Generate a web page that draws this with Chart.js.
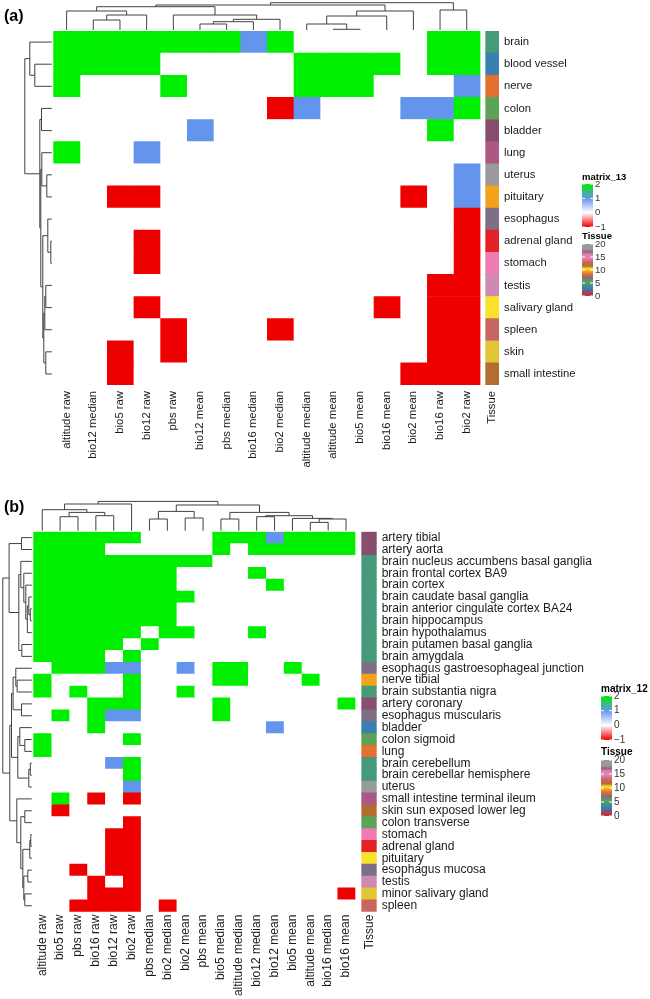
<!DOCTYPE html>
<html>
<head>
<meta charset="utf-8">
<script src="https://cdn.jsdelivr.net/npm/chart.js@4.4.1/dist/chart.umd.min.js"></script>
<style>
  body { margin: 0; background: #fff; }
  canvas { display: block; }
</style>
</head>
<body>
<canvas id="chartA" width="650" height="470"></canvas>
<canvas id="chartB" width="650" height="529"></canvas>
<script>
// ---- panel (a) ----
const rowsA = ["brain", "blood vessel", "nerve", "colon", "bladder", "lung", "uterus", "pituitary",
  "esophagus", "adrenal gland", "stomach", "testis", "salivary gland", "spleen", "skin", "small intestine"];
const colsA = ["altitude raw", "bio12 median", "bio5 raw", "bio12 raw", "pbs raw", "bio12 mean", "pbs median",
  "bio16 median", "bio2 median", "altitude median", "altitude mean", "bio5 mean", "bio16 mean", "bio2 mean",
  "bio16 raw", "bio2 raw"];
const valuesA = [
  [2, 2, 2, 2, 2, 2, 2, 1, 2, 0, 0, 0, 0, 0, 2, 2],
  [2, 2, 2, 2, 0, 0, 0, 0, 0, 2, 2, 2, 2, 0, 2, 2],
  [2, 0, 0, 0, 2, 0, 0, 0, 0, 2, 2, 2, 0, 0, 0, 1],
  [0, 0, 0, 0, 0, 0, 0, 0, -1, 1, 0, 0, 0, 1, 1, 2],
  [0, 0, 0, 0, 0, 1, 0, 0, 0, 0, 0, 0, 0, 0, 2, 0],
  [2, 0, 0, 1, 0, 0, 0, 0, 0, 0, 0, 0, 0, 0, 0, 0],
  [0, 0, 0, 0, 0, 0, 0, 0, 0, 0, 0, 0, 0, 0, 0, 1],
  [0, 0, -1, -1, 0, 0, 0, 0, 0, 0, 0, 0, 0, -1, 0, 1],
  [0, 0, 0, 0, 0, 0, 0, 0, 0, 0, 0, 0, 0, 0, 0, -1],
  [0, 0, 0, -1, 0, 0, 0, 0, 0, 0, 0, 0, 0, 0, 0, -1],
  [0, 0, 0, -1, 0, 0, 0, 0, 0, 0, 0, 0, 0, 0, 0, -1],
  [0, 0, 0, 0, 0, 0, 0, 0, 0, 0, 0, 0, 0, 0, -1, -1],
  [0, 0, 0, -1, 0, 0, 0, 0, 0, 0, 0, 0, -1, 0, -1, -1],
  [0, 0, 0, 0, -1, 0, 0, 0, -1, 0, 0, 0, 0, 0, -1, -1],
  [0, 0, -1, 0, -1, 0, 0, 0, 0, 0, 0, 0, 0, 0, -1, -1],
  [0, 0, -1, 0, 0, 0, 0, 0, 0, 0, 0, 0, 0, -1, -1, -1]
];
const tissueA = ["#459A7A", "#3A7FB0", "#E3702E", "#5AA357", "#874F6D", "#AD5784", "#9A9A9A", "#F5A11B",
  "#7F6E86", "#E32228", "#EF7BB0", "#CE8AB0", "#F9E22A", "#C96662", "#E2C534", "#B36E2F"];
// hclust style merges: negative = leaf (1-based), positive = earlier merge
const colTreeA = [[-2, -3, 10], [1, -4, 15], [-1, 2, 19], [-6, -7, 6], [4, -8, 8.3], [5, -9, 10.7],
  [-5, 6, 15], [3, 7, 23.3], [-11, -12, 0.7], [-10, 9, 6], [10, -13, 14], [11, -14, 19],
  [8, 12, 25], [-15, -16, 20], [13, 14, 27.3]];
const rowTreeA = [[-2, -3, 17], [-1, 1, 22], [-4, -5, 10.3], [-7, -8, 5], [-6, 4, 10], [-10, -11, 1],
  [-9, 6, 4], [-12, -13, 6], [8, -14, 7], [-15, -16, 6], [9, 10, 8], [7, 11, 9], [5, 12, 11],
  [3, 13, 12], [2, 14, 27]];

// ---- panel (b) ----
const rowsB = ["artery tibial", "artery aorta", "brain nucleus accumbens basal ganglia", "brain frontal cortex BA9",
  "brain cortex", "brain caudate basal ganglia", "brain anterior cingulate cortex BA24", "brain hippocampus",
  "brain hypothalamus", "brain putamen basal ganglia", "brain amygdala", "esophagus gastroesophageal junction",
  "nerve tibial", "brain substantia nigra", "artery coronary", "esophagus muscularis", "bladder", "colon sigmoid",
  "lung", "brain cerebellum", "brain cerebellar hemisphere", "uterus", "small intestine terminal ileum",
  "skin sun exposed lower leg", "colon transverse", "stomach", "adrenal gland", "pituitary", "esophagus mucosa",
  "testis", "minor salivary gland", "spleen"];
const colsB = ["altitude raw", "bio5 raw", "pbs raw", "bio16 raw", "bio12 raw", "bio2 raw", "pbs median",
  "bio2 median", "bio2 mean", "pbs mean", "bio5 median", "altitude median", "bio12 median", "bio12 mean",
  "bio5 mean", "altitude mean", "bio16 median", "bio16 mean"];
const valuesB = [
  [2, 2, 2, 2, 2, 2, 0, 0, 0, 0, 2, 2, 2, 1, 2, 2, 2, 2],
  [2, 2, 2, 2, 0, 0, 0, 0, 0, 0, 2, 0, 2, 2, 2, 2, 2, 2],
  [2, 2, 2, 2, 2, 2, 2, 2, 2, 2, 0, 0, 0, 0, 0, 0, 0, 0],
  [2, 2, 2, 2, 2, 2, 2, 2, 0, 0, 0, 0, 2, 0, 0, 0, 0, 0],
  [2, 2, 2, 2, 2, 2, 2, 2, 0, 0, 0, 0, 0, 2, 0, 0, 0, 0],
  [2, 2, 2, 2, 2, 2, 2, 2, 2, 0, 0, 0, 0, 0, 0, 0, 0, 0],
  [2, 2, 2, 2, 2, 2, 2, 2, 0, 0, 0, 0, 0, 0, 0, 0, 0, 0],
  [2, 2, 2, 2, 2, 2, 2, 2, 0, 0, 0, 0, 0, 0, 0, 0, 0, 0],
  [2, 2, 2, 2, 2, 2, 0, 2, 2, 0, 0, 0, 2, 0, 0, 0, 0, 0],
  [2, 2, 2, 2, 2, 0, 2, 0, 0, 0, 0, 0, 0, 0, 0, 0, 0, 0],
  [2, 2, 2, 2, 0, 2, 0, 0, 0, 0, 0, 0, 0, 0, 0, 0, 0, 0],
  [0, 2, 2, 2, 1, 1, 0, 0, 1, 0, 2, 2, 0, 0, 2, 0, 0, 0],
  [2, 0, 0, 0, 0, 2, 0, 0, 0, 0, 2, 2, 0, 0, 0, 2, 0, 0],
  [2, 0, 2, 0, 0, 2, 0, 0, 2, 0, 0, 0, 0, 0, 0, 0, 0, 0],
  [0, 0, 0, 2, 2, 2, 0, 0, 0, 0, 2, 0, 0, 0, 0, 0, 0, 2],
  [0, 2, 0, 2, 1, 1, 0, 0, 0, 0, 2, 0, 0, 0, 0, 0, 0, 0],
  [0, 0, 0, 2, 0, 0, 0, 0, 0, 0, 0, 0, 0, 1, 0, 0, 0, 0],
  [2, 0, 0, 0, 0, 2, 0, 0, 0, 0, 0, 0, 0, 0, 0, 0, 0, 0],
  [2, 0, 0, 0, 0, 0, 0, 0, 0, 0, 0, 0, 0, 0, 0, 0, 0, 0],
  [0, 0, 0, 0, 1, 2, 0, 0, 0, 0, 0, 0, 0, 0, 0, 0, 0, 0],
  [0, 0, 0, 0, 0, 2, 0, 0, 0, 0, 0, 0, 0, 0, 0, 0, 0, 0],
  [0, 0, 0, 0, 0, 1, 0, 0, 0, 0, 0, 0, 0, 0, 0, 0, 0, 0],
  [0, 2, 0, -1, 0, -1, 0, 0, 0, 0, 0, 0, 0, 0, 0, 0, 0, 0],
  [0, -1, 0, 0, 0, 0, 0, 0, 0, 0, 0, 0, 0, 0, 0, 0, 0, 0],
  [0, 0, 0, 0, 0, -1, 0, 0, 0, 0, 0, 0, 0, 0, 0, 0, 0, 0],
  [0, 0, 0, 0, -1, -1, 0, 0, 0, 0, 0, 0, 0, 0, 0, 0, 0, 0],
  [0, 0, 0, 0, -1, -1, 0, 0, 0, 0, 0, 0, 0, 0, 0, 0, 0, 0],
  [0, 0, 0, 0, -1, -1, 0, 0, 0, 0, 0, 0, 0, 0, 0, 0, 0, 0],
  [0, 0, -1, 0, -1, -1, 0, 0, 0, 0, 0, 0, 0, 0, 0, 0, 0, 0],
  [0, 0, 0, -1, 0, -1, 0, 0, 0, 0, 0, 0, 0, 0, 0, 0, 0, 0],
  [0, 0, 0, -1, -1, -1, 0, 0, 0, 0, 0, 0, 0, 0, 0, 0, 0, -1],
  [0, 0, -1, -1, -1, -1, 0, -1, 0, 0, 0, 0, 0, 0, 0, 0, 0, 0]
];
const tissueB = ["#874F6D", "#874F6D", "#459A7A", "#459A7A", "#459A7A", "#459A7A", "#459A7A", "#459A7A",
  "#459A7A", "#459A7A", "#459A7A", "#7F6E86", "#F5A11B", "#459A7A", "#874F6D", "#7F6E86", "#3A7FB0",
  "#5AA357", "#E3702E", "#459A7A", "#459A7A", "#9A9A9A", "#AD5784", "#B36E2F", "#5AA357", "#EF7BB0",
  "#E32228", "#F9E22A", "#7F6E86", "#CE8AB0", "#E2C534", "#C96662"];
const colTreeB = [[-2, -3, 14], [-4, -5, 15], [1, 2, 18.3], [-1, 3, 21], [4, -6, 26.7], [-7, -8, 11.7],
  [-9, -10, 12.7], [6, 7, 19.3], [-11, -12, 11.7], [-13, -14, 14], [-16, -17, 8.3], [11, -18, 11.7],
  [-15, 12, 12.3], [10, 13, 15], [9, 14, 18.3], [8, 15, 25.7], [5, 16, 29.3]];
const rowTreeB = [[-1, -2, 10.3], [-7, -8, 1.5], [-6, 2, 3], [3, -9, 4.5], [-5, 4, 6], [-4, 5, 8],
  [-3, 6, 11], [-10, -11, 10], [7, 8, 13], [1, 9, 22.7], [-13, -14, 14.7], [-12, 11, 16],
  [-15, -16, 10.3], [12, 13, 18.7], [-18, -19, 7], [-17, 15, 12], [-20, -21, 1.5], [17, -22, 3],
  [16, 18, 14], [14, 19, 20.3], [-24, -25, 7], [-26, -27, 1], [22, -28, 2], [-29, -30, 4],
  [-31, -32, 7], [24, 25, 8], [23, 26, 9], [21, 27, 11], [-23, 28, 15], [20, 29, 22], [10, 30, 29]];

// legends
const matrixTicks = [2, 1, 0, -1];
const matrixStops = [[-1, "#EE0000"], [0, "#FFFFFF"], [1, "#6495ED"], [2, "#00EE00"]];
const tissueTicks = [20, 15, 10, 5, 0];
const tissueStops = [[0, "#E32228"], [1.5, "#874F6D"], [3, "#3A7FB0"], [4.5, "#459A7A"], [5.5, "#5AA357"],
  [7, "#7F6E86"], [8.5, "#E3702E"], [9.5, "#F5A11B"], [10.5, "#F9E22A"], [11.5, "#B36E2F"], [13, "#C96662"],
  [14.5, "#EF7BB0"], [16, "#CE8AB0"], [17, "#AD5784"], [18, "#9A9A9A"], [20, "#9A9A9A"]];

const FONT = "'Liberation Sans', Arial, sans-serif";

function cellColor(v) {
  if (v === 2) return "#00EE00";
  if (v === 1) return "#6495ED";
  if (v === -1) return "#EE0000";
  return "#FFFFFF";
}

function drawTree(ctx, merges, leafPix, hPix, side) {
  const nodes = [];
  const get = k => k < 0 ? { p: leafPix(-k - 1), h: 0 } : nodes[k - 1];
  merges.forEach(([a, b, h]) => {
    const A = get(a), B = get(b);
    const hp = hPix(h), ha = hPix(A.h), hb = hPix(B.h);
    ctx.beginPath();
    if (side === "top") {
      ctx.moveTo(A.p, ha); ctx.lineTo(A.p, hp); ctx.lineTo(B.p, hp); ctx.lineTo(B.p, hb);
    } else {
      ctx.moveTo(ha, A.p); ctx.lineTo(hp, A.p); ctx.lineTo(hp, B.p); ctx.lineTo(hb, B.p);
    }
    ctx.stroke();
    nodes.push({ p: (A.p + B.p) / 2, h: h });
  });
}

function colorBar(ctx, lg, title, titleY, stops, ticks, top, bottom) {
  const lo = Math.min(...ticks), hi = Math.max(...ticks);
  const yOf = v => bottom - (v - lo) / (hi - lo) * (bottom - top);
  ctx.fillStyle = "#000";
  ctx.font = "bold " + lg.titleSize + "px " + FONT;
  ctx.textAlign = "left";
  ctx.textBaseline = "middle";
  ctx.fillText(title, lg.x, titleY);
  const g = ctx.createLinearGradient(0, bottom, 0, top);
  stops.forEach(([v, c]) => g.addColorStop((v - lo) / (hi - lo), c));
  ctx.fillStyle = g;
  ctx.fillRect(lg.x, top, lg.w, bottom - top);
  ctx.strokeStyle = "#fff";
  ctx.lineWidth = 1;
  ctx.font = lg.size + "px " + FONT;
  ticks.forEach(v => {
    const y = yOf(v);
    ctx.beginPath();
    ctx.moveTo(lg.x, y); ctx.lineTo(lg.x + 3, y);
    ctx.moveTo(lg.x + lg.w - 3, y); ctx.lineTo(lg.x + lg.w, y);
    ctx.stroke();
    ctx.fillStyle = "#333";
    ctx.fillText(v < 0 ? "\u2212" + Math.abs(v) : String(v), lg.x + lg.w + 2, y);
  });
}

const extrasPlugin = {
  id: "extras",
  afterDraw(chart, args, o) {
    const { ctx, chartArea, scales } = chart;
    ctx.save();
    ctx.strokeStyle = "#404040";
    ctx.lineWidth = 1;
    drawTree(ctx, o.colTree, j => scales.x.getPixelForValue(j + 0.5),
      h => chartArea.top - 1 - h * o.colScale, "top");
    drawTree(ctx, o.rowTree, i => scales.y.getPixelForValue(i),
      h => chartArea.left - 1.5 - h * o.rowScale, "left");
    const lg = o.legend;
    colorBar(ctx, lg, o.matrixTitle, lg.mTitle, matrixStops, matrixTicks, lg.mTop, lg.mBottom);
    colorBar(ctx, lg, "Tissue", lg.tTitle, tissueStops, tissueTicks, lg.tTop, lg.tBottom);
    ctx.fillStyle = "#000";
    ctx.font = "bold 16px " + FONT;
    ctx.textAlign = "left";
    ctx.textBaseline = "alphabetic";
    ctx.fillText(o.tag, o.tagX, o.tagY);
    ctx.restore();
  }
};

function heatmap(id, p) {
  const datasets = p.cols.map((c, j) => ({
    label: c,
    data: p.rows.map(() => 1),
    backgroundColor: p.rows.map((r, i) => cellColor(p.values[i][j]))
  }));
  datasets.push({ label: "gap", data: p.rows.map(() => p.gap), backgroundColor: "rgba(0,0,0,0)" });
  datasets.push({ label: "Tissue", data: p.rows.map(() => p.tissueW), backgroundColor: p.tissue });
  const total = p.cols.length + p.gap + p.tissueW;
  const tickVals = p.cols.map((c, j) => j + 0.5).concat([p.cols.length + p.gap + p.tissueW / 2]);
  const tickText = p.cols.concat(["Tissue"]);

  return new Chart(document.getElementById(id), {
    type: "bar",
    data: { labels: p.rows, datasets: datasets },
    plugins: [extrasPlugin],
    options: {
      indexAxis: "y",
      responsive: false,
      animation: false,
      events: [],
      layout: { padding: { left: p.left, top: p.top, right: 0, bottom: 0 } },
      datasets: { bar: { barPercentage: 1, categoryPercentage: 1, borderWidth: 0 } },
      plugins: {
        legend: { display: false },
        tooltip: { enabled: false },
        extras: p.extras
      },
      scales: {
        x: {
          type: "linear", stacked: true, min: 0, max: total,
          grid: { display: false, drawTicks: false },
          border: { display: false },
          afterBuildTicks: s => { s.ticks = tickVals.map(v => ({ value: v })); },
          afterFit: s => { s.height = p.axisH; },
          ticks: {
            autoSkip: false, minRotation: 90, maxRotation: 90, padding: p.colPad,
            color: "#1a1a1a", font: { family: FONT, size: p.fontSize },
            callback: (v, i) => tickText[i]
          }
        },
        y: {
          position: "right", stacked: true,
          grid: { display: false, drawTicks: false },
          border: { display: false },
          afterFit: s => { s.width = p.axisW; },
          ticks: {
            autoSkip: false, padding: 5,
            color: "#1a1a1a", font: { family: FONT, size: p.fontSize }
          }
        }
      }
    }
  });
}

heatmap("chartA", {
  rows: rowsA, cols: colsA, values: valuesA, tissue: tissueA,
  gap: 0.21, tissueW: 0.5, left: 53.3, top: 31, axisW: 151, axisH: 85,
  fontSize: 11.3, colPad: 6,
  extras: {
    colTree: colTreeA, rowTree: rowTreeA, colScale: 1, rowScale: 1,
    matrixTitle: "matrix_13", tag: "(a)", tagX: 4, tagY: 21,
    legend: { x: 582, w: 11, size: 9.5, titleSize: 9.5, mTitle: 177, mTop: 184, mBottom: 227,
      tTitle: 236, tTop: 244, tBottom: 296 }
  }
});

heatmap("chartB", {
  rows: rowsB, cols: colsB, values: valuesB, tissue: tissueB,
  gap: 0.375, tissueW: 0.84, left: 33.3, top: 61.7, axisW: 273.3, axisH: 87.3,
  fontSize: 12, colPad: 3,
  extras: {
    colTree: colTreeB, rowTree: rowTreeB, colScale: 1, rowScale: 1,
    matrixTitle: "matrix_12", tag: "(b)", tagX: 4, tagY: 42,
    legend: { x: 601, w: 11, size: 10, titleSize: 10, mTitle: 219, mTop: 226, mBottom: 270,
      tTitle: 282, tTop: 290, tBottom: 346 }
  }
});
</script>
</body>
</html>
